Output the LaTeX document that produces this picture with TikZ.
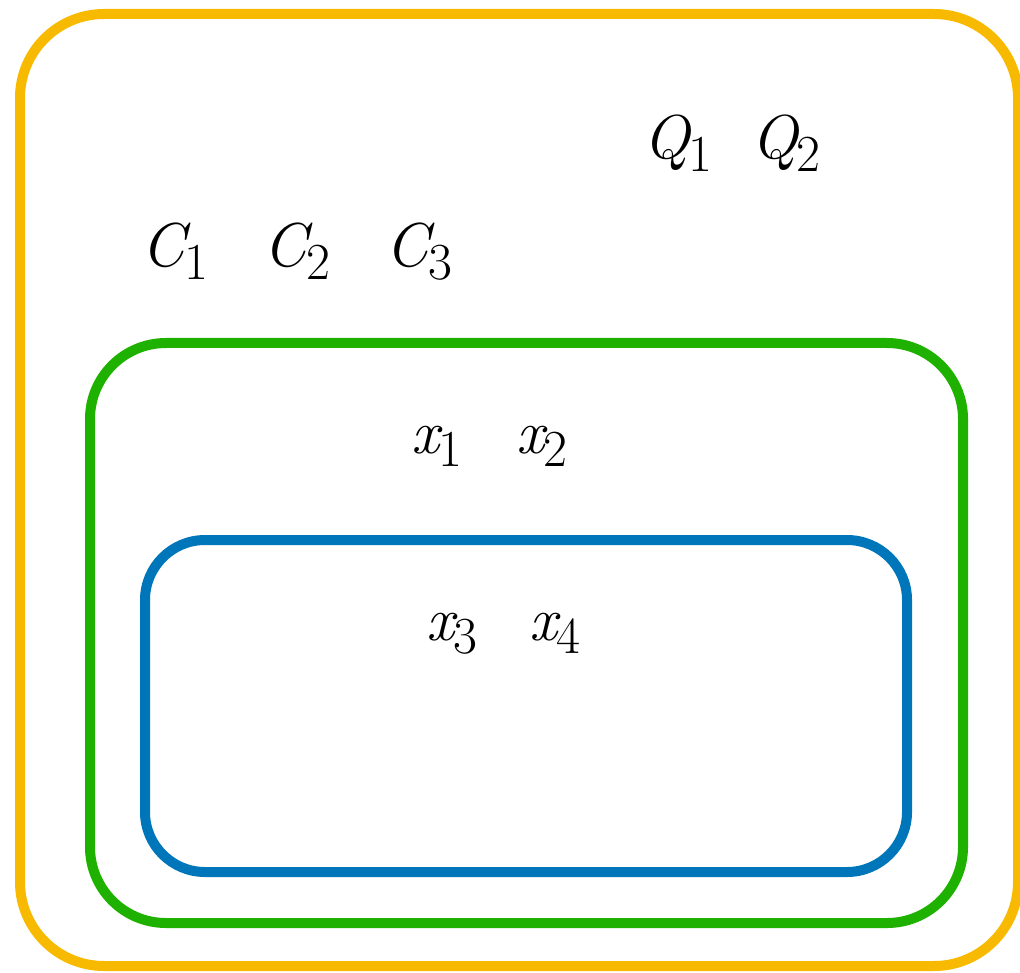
\documentclass[tikz,border=0pt]{standalone}
\definecolor{setorange}{RGB}{248,186,0}
\definecolor{setgreen}{RGB}{30,177,0}
\definecolor{setblue}{RGB}{0,118,186}
\newcommand{\lab}[2]{{\itshape #1}\kern-0.5pt\raisebox{-6.5pt}{\fontsize{26}{26}\selectfont #2}}
\begin{document}
\begin{tikzpicture}[x=0.5pt, y=-0.5pt,
    frame/.style={line width=5pt},
    lab/.style={anchor=base, inner sep=0pt, font=\rmfamily\fontsize{31}{31}\selectfont}]
    \useasboundingbox (0,0) rectangle (1020,972);
    % nested sets
    \draw[frame, draw=setorange, rounded corners=42pt] (20,14) rectangle (1018,966);
    \draw[frame, draw=setgreen, rounded corners=38pt] (90,343) rectangle (963,923);
    \draw[frame, draw=setblue, rounded corners=30pt] (145,540) rectangle (907,872);
    % outer labels
    \node[lab] (q1) at (678,159) {\lab{Q}{1}};
    \node[lab] (q2) at (786,159) {\lab{Q}{2}};
    \node[lab] (c1) at (175,267) {\lab{C}{1}};
    \node[lab] (c2) at (297,267) {\lab{C}{2}};
    \node[lab] (c3) at (419,267) {\lab{C}{3}};
    % inner labels
    \node[lab] (x1) at (437,453) {\lab{x}{1}};
    \node[lab] (x2) at (542,453) {\lab{x}{2}};
    \node[lab] (x3) at (452,640) {\lab{x}{3}};
    \node[lab] (x4) at (555,640) {\lab{x}{4}};
\end{tikzpicture}
\end{document}
